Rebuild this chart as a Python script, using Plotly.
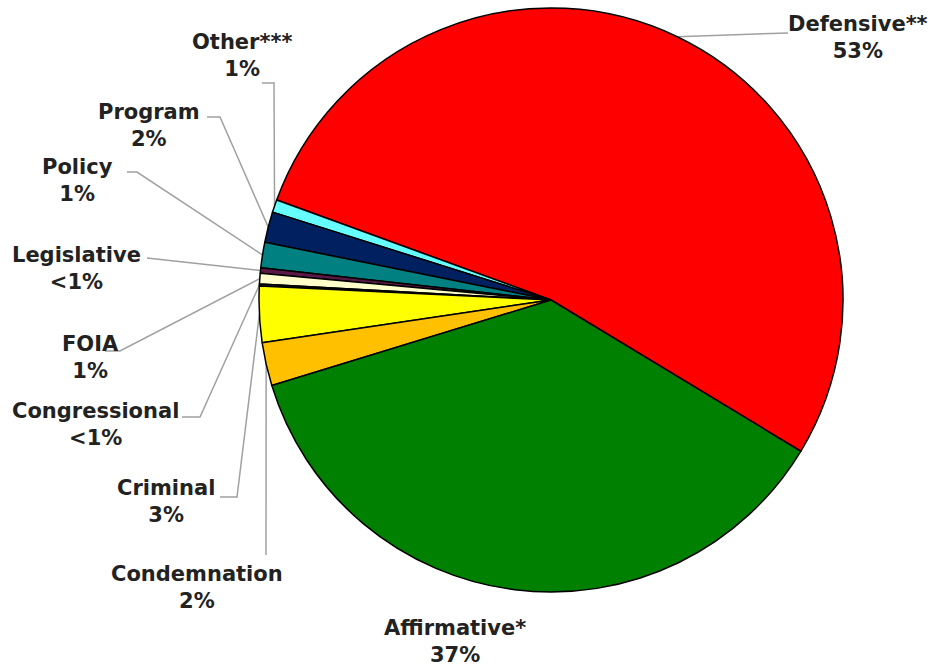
import math
import plotly.graph_objects as go

# ---- data (counter-clockwise order, starting with Defensive) ----
categories = ["Defensive**", "Other***", "Program", "Policy", "Legislative",
              "FOIA", "Congressional", "Criminal", "Condemnation", "Affirmative*"]
shares = [53.1, 0.7, 1.7, 1.4, 0.3, 0.6, 0.1, 3.1, 2.4, 36.6]
pct_labels = ["53%", "1%", "2%", "1%", "<1%", "1%", "<1%", "3%", "2%", "37%"]

# ---- style / layout ----
slice_colors = ["#FF0000", "#66FFFF", "#002060", "#008080", "#5A1846",
                "#FFFFCC", "#333333", "#FFFF00", "#FFC000", "#008000"]
W, H = 930, 669
START_CLOCK = 121.2          # clockwise edge of the first slice, degrees from 12 o'clock
total = sum(shares)
ROTATION = START_CLOCK - 360 * shares[0] / total
dom_x = [(551 - 292) / W, (551 + 292) / W]
dom_y = [1 - (300 + 292) / H, 1 - (300 - 292) / H]

# label block centres (pixels) and leader-line starting points (pixels)
label_pos = {
    "Defensive**": (858, 37),
    "Other***": (242, 56),
    "Program": (149, 125),
    "Policy": (77, 181),
    "Legislative": (76, 268),
    "FOIA": (90, 357),
    "Congressional": (95, 424),
    "Criminal": (166, 501),
    "Condemnation": (197, 587),
    "Affirmative*": (455, 641),
}
leader_start = {
    "Defensive**": [(788, 33)],
    "Other***": [(262, 83), (274, 83)],
    "Program": [(207, 117), (220, 117)],
    "Policy": [(127, 172), (137, 172)],
    "Legislative": [(147, 258)],
    "FOIA": [(105, 351), (120, 351)],
    "Congressional": [(182, 417), (200, 417)],
    "Criminal": [(220, 497), (237, 497)],
    "Condemnation": [(266, 555)],
}

fig = go.Figure(go.Pie(
    labels=categories, values=shares, sort=False, direction="counterclockwise",
    rotation=ROTATION, textinfo="none", hoverinfo="label+percent",
    marker=dict(colors=slice_colors, line=dict(color="#000000", width=1.5)),
    domain=dict(x=dom_x, y=dom_y), showlegend=False,
))

# pie geometry in pixels (from the domain)
cx = (dom_x[0] + dom_x[1]) / 2 * W
cy = (1 - (dom_y[0] + dom_y[1]) / 2) * H
r = min((dom_x[1] - dom_x[0]) * W, (dom_y[1] - dom_y[0]) * H) / 2
start = 90 - START_CLOCK     # math angle of the first slice's starting edge

def px2paper(p):
    return p[0] / W, 1 - p[1] / H

cum = 0.0
for cat, v, pct in zip(categories, shares, pct_labels):
    mid = math.radians(start + 360 * (cum + v / 2) / total)
    cum += v
    edge = (cx + r * math.cos(mid), cy - r * math.sin(mid))
    if cat in leader_start:
        pts = leader_start[cat] + [edge]
        path = "M " + " L ".join(f"{px2paper(p)[0]:.5f},{px2paper(p)[1]:.5f}" for p in pts)
        fig.add_shape(type="path", path=path, xref="paper", yref="paper",
                      line=dict(color="#A0A0A0", width=1.5), layer="below")
    lx, ly = px2paper(label_pos[cat])
    fig.add_annotation(x=lx, y=ly, xref="paper", yref="paper", showarrow=False,
                       xanchor="center", yanchor="middle", align="center",
                       text=f"<b>{cat}</b><br><b>{pct}</b>",
                       font=dict(family="DejaVu Sans", size=21, color="#222222"))

fig.update_layout(width=W, height=H, margin=dict(l=0, r=0, t=0, b=0),
                  paper_bgcolor="white", plot_bgcolor="white")
fig.write_html("out.html", config={"displayModeBar": False},
               post_script="document.body.style.margin='0';")
